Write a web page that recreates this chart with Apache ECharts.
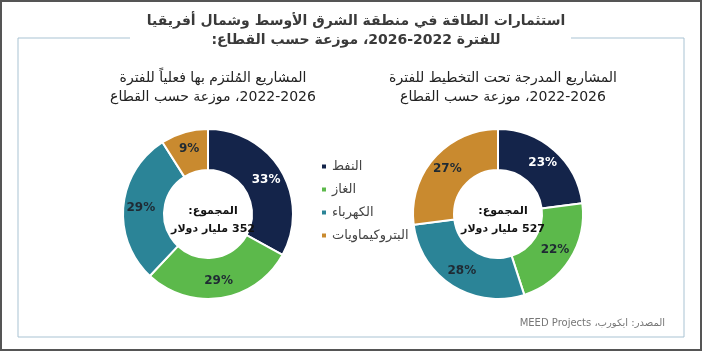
<!DOCTYPE html>
<html lang="ar">
<head>
  <meta charset="UTF-8">
  <title>استثمارات الطاقة</title>
  <script src="https://cdn.jsdelivr.net/npm/echarts@6/dist/echarts.min.js"></script>
  <style>
    html, body { margin: 0; padding: 0; background: #fff; }
  </style>
</head>
<body>
<div id="chart" dir="rtl" style="width: 702px;height: 351px"></div>
<script>
  var sectors = ['النفط', 'الغاز', 'الكهرباء', 'البتروكيماويات'];
  var committed = [33, 29, 29, 9];      // المشاريع الملتزم بها
  var planned = [23, 22, 28, 27];       // المشاريع تحت التخطيط
  var committedTotal = 352;
  var plannedTotal = 527;
  var colors = ['#14244a', '#5cb94b', '#2b8497', '#c98a2f'];
  var labelColors = ['#ffffff', '#1f2a33', '#1f2a33', '#1f2a33'];

  var font = "'DejaVu Sans', 'Noto Sans', sans-serif";

  function pieData(vals) {
    var out = [];
    for (var i = 0; i < vals.length; i++) {
      out.push({
        name: sectors[i],
        value: vals[i],
        label: { color: labelColors[i] }
      });
    }
    return out;
  }

  function donut(center, vals) {
    return {
      type: 'pie',
      center: center,
      radius: [44, 85],
      startAngle: 90,
      clockwise: true,
      avoidLabelOverlap: false,
      silent: true,
      itemStyle: { borderColor: '#fff', borderWidth: 2 },
      label: {
        position: 'inside',
        formatter: '{c}%',
        fontFamily: font,
        fontSize: 12,
        fontWeight: 'bold'
      },
      labelLine: { show: false },
      data: pieData(vals)
    };
  }

  var chart = echarts.init(document.getElementById('chart'));

  var option = {
    backgroundColor: '#fff',
    color: colors,
    animation: false,
    title: [
      {
        text: 'استثمارات الطاقة في منطقة الشرق الأوسط وشمال أفريقيا\nللفترة 2022-2026، موزعة حسب القطاع:',
        left: 351, top: 7, textAlign: 'center',
        textStyle: { fontFamily: font, fontSize: 14, fontWeight: 'bold', color: '#3a3a3a', lineHeight: 19 }
      },
      {
        text: 'المشاريع المُلتزم بها فعلياً للفترة\n2022-2026، موزعة حسب القطاع',
        left: 208, top: 64, textAlign: 'center',
        textStyle: { fontFamily: font, fontSize: 14, fontWeight: 'normal', color: '#222', lineHeight: 19 }
      },
      {
        text: 'المشاريع المدرجة تحت التخطيط للفترة\n2022-2026، موزعة حسب القطاع',
        left: 498, top: 64, textAlign: 'center',
        textStyle: { fontFamily: font, fontSize: 14, fontWeight: 'normal', color: '#222', lineHeight: 19 }
      },
      {
        text: 'المجموع:\n' + committedTotal + ' مليار دولار',
        left: 208, top: 197, textAlign: 'center',
        textStyle: { fontFamily: font, fontSize: 11, fontWeight: 'bold', color: '#111', lineHeight: 18 }
      },
      {
        text: 'المجموع:\n' + plannedTotal + ' مليار دولار',
        left: 498, top: 197, textAlign: 'center',
        textStyle: { fontFamily: font, fontSize: 11, fontWeight: 'bold', color: '#111', lineHeight: 18 }
      },
      {
        text: 'المصدر: ايكورب، MEED Projects',
        right: 32, top: 313,
        textStyle: { fontFamily: font, fontSize: 10, fontWeight: 'normal', color: '#777' }
      }
    ],
    legend: {
      orient: 'vertical',
      left: 315,
      top: 155,
      icon: 'rect',
      itemWidth: 6,
      itemHeight: 6,
      itemGap: 10,
      selectedMode: false,
      data: sectors,
      textStyle: { fontFamily: font, fontSize: 13, color: '#444' }
    },
    graphic: [
      { type: 'rect', shape: { x: 1, y: 1, width: 700, height: 349 }, style: { fill: 'none', stroke: '#555', lineWidth: 2 }, silent: true },
      { type: 'line', shape: { x1: 18, y1: 337, x2: 684, y2: 337 }, style: { stroke: '#a9c3d3', lineWidth: 1 }, silent: true },
      { type: 'line', shape: { x1: 18, y1: 38, x2: 18, y2: 337 }, style: { stroke: '#a9c3d3', lineWidth: 1 }, silent: true },
      { type: 'line', shape: { x1: 684, y1: 38, x2: 684, y2: 337 }, style: { stroke: '#a9c3d3', lineWidth: 1 }, silent: true },
      { type: 'line', shape: { x1: 18, y1: 38, x2: 130, y2: 38 }, style: { stroke: '#a9c3d3', lineWidth: 1 }, silent: true },
      { type: 'line', shape: { x1: 571, y1: 38, x2: 684, y2: 38 }, style: { stroke: '#a9c3d3', lineWidth: 1 }, silent: true }
    ],
    series: [
      donut([208, 214], committed),
      donut([498, 214], planned)
    ]
  };

  chart.setOption(option);
</script>
</body>
</html>
